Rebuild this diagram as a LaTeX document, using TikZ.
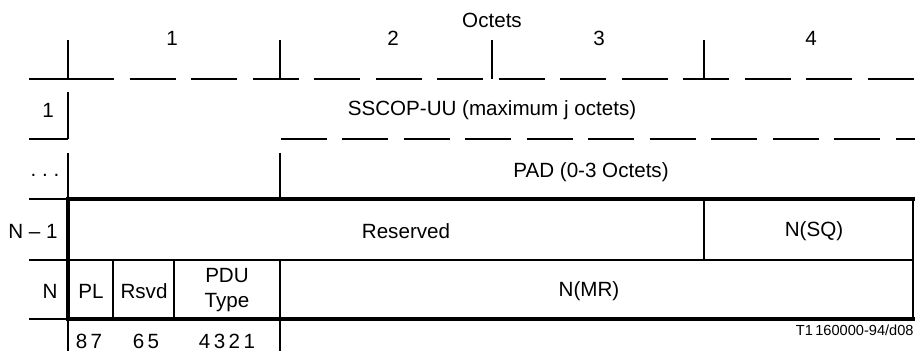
\documentclass[tikz,border=0pt]{standalone}
\usepackage{fontspec}
\setmainfont{Liberation Sans}
\begin{document}
\begin{tikzpicture}[x=0.5pt,y=-0.5pt]
\tikzset{lbl/.style={inner sep=0pt,font=\fontsize{10.3}{12.5}\selectfont},
  rule/.style={line width=0.6pt,black},
  frame/.style={line width=2pt,black,line cap=rect},
  dashrule/.style={rule,dash pattern=on 23pt off 7.75pt}}

\useasboundingbox (0,0) rectangle (915,351);

% header
\node[lbl] (oct) at (492,20) {Octets};
\foreach \n/\x in {1/172,2/393,3/599,4/811} {
    \node[lbl] (o\n) at (\x,38) {\n};
}
\foreach \x in {68,280,492,704} {
    \draw[rule] (\x,40) -- (\x,79);
}
\draw[rule] (29,79) -- (68,79);
\draw[dashrule] (68,79) -- (915,79);

% row labels
\node[lbl] (r1) at (48,110) {1};
\node[lbl] (rd) at (45,175) {.\ .\ .};
\node[lbl] (rn1) at (33,231) {N \textendash\ 1};
\node[lbl] (rn) at (50,291) {N};

% row 1
\draw[rule] (68,92) -- (68,139);
\draw[rule] (29,139) -- (68,139);
\draw[dashrule] (280.7,139) -- (915,139);
\node[lbl] (uu) at (492,110) {SSCOP-UU (maximum j octets)};

% pad row
\draw[rule] (68,153) -- (68,199);
\draw[rule] (280,153) -- (280,199);
\node[lbl] (pad) at (591,172) {PAD (0-3 Octets)};

% trailer
\draw[rule] (29,199) -- (68,199);
\draw[rule] (29,260) -- (913,260);
\draw[rule] (29,319) -- (68,319);
\draw[rule] (913,199) -- (913,319);
\draw[rule] (704,199) -- (704,260);
\foreach \x in {113,174,280} {
    \draw[rule] (\x,260) -- (\x,319);
}
\draw[frame] (913,199) -- (68,199) -- (68,319) -- (913,319);
\draw[rule] (68,319) -- (68,351);
\draw[rule] (280,319) -- (280,351);

\node[lbl] (res) at (406,231) {Reserved};
\node[lbl] (sq) at (814,231) {N(SQ)};
\node[lbl] (pl) at (91,291) {PL};
\node[lbl] (rsvd) at (144,291) {Rsvd};
\node[lbl,align=center] (type) at (227,290) {PDU\\Type};
\node[lbl] (mr) at (589,291) {N(MR)};

% bit numbers
\node[lbl,anchor=base] (b87) at (89,349) {8\,7};
\node[lbl,anchor=base] (b65) at (146,349) {6\,5};
\node[lbl,anchor=base] (b41) at (227,349) {4\,3\,2\,1};

\node[inner sep=0pt,anchor=east,font=\fontsize{7.3}{9}\selectfont] (ref) at (914,330) {T1\,160000-94/d08};
\end{tikzpicture}
\end{document}
